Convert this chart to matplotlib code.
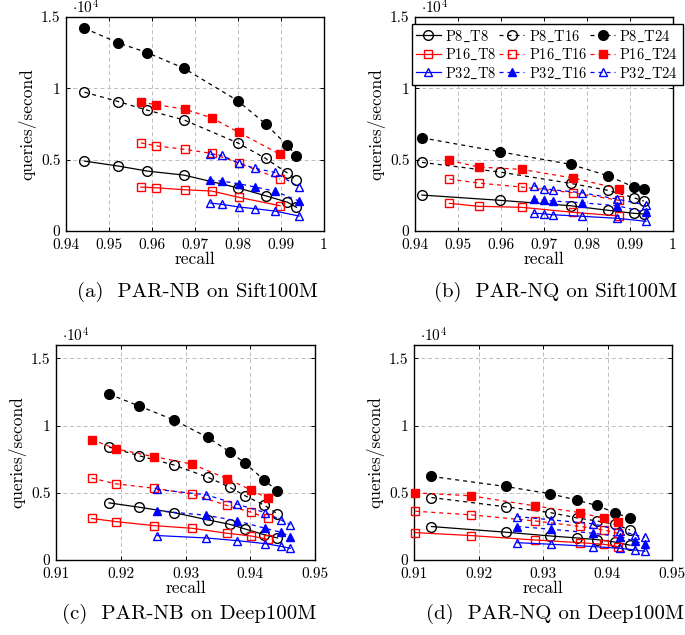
import matplotlib as mpl
mpl.use('Agg')

import matplotlib.pyplot as plt

plt.rcParams['font.family'] = ['cmr10', 'DejaVu Serif']
plt.rcParams['mathtext.fontset'] = 'cm'
plt.rcParams['axes.unicode_minus'] = False
plt.rcParams['axes.formatter.use_mathtext'] = True

# ---- data (queries/second) ----
# (a) PAR-NB on Sift100M
a_recall_p8 = [0.9443, 0.9522, 0.9589, 0.9674, 0.9799, 0.9864, 0.9914, 0.9936]
a_p8 = [[4900, 4550, 4200, 3920, 3030, 2470, 2030, 1660],
        [9730, 9070, 8470, 7790, 6180, 5090, 4080, 3550],
        [14210, 13180, 12500, 11410, 9140, 7510, 6020, 5270]]
a_recall_p16 = [0.9574, 0.9609, 0.9676, 0.9739, 0.9802, 0.9898]
a_p16 = [[3080, 3030, 2890, 2800, 2360, 1770],
         [6180, 5970, 5720, 5440, 4760, 3640],
         [9030, 8860, 8540, 7930, 6910, 5370]]
a_recall_p32 = [0.9736, 0.9762, 0.9803, 0.9840, 0.9885, 0.9942]
a_p32 = [[1960, 1870, 1680, 1560, 1400, 1050],
         [3570, 3500, 3310, 3080, 2800, 2100],
         [5370, 5300, 4740, 4390, 4110, 3080]]

# (b) PAR-NQ on Sift100M
b_recall_p8 = [0.9416, 0.9598, 0.9762, 0.9849, 0.9909, 0.9932]
b_p8 = [[2520, 2150, 1770, 1450, 1240, 1190],
        [4810, 4130, 3340, 2850, 2330, 2100],
        [6530, 5550, 4670, 3870, 3080, 2920]]
b_recall_p16 = [0.9480, 0.9548, 0.9648, 0.9768, 0.9875]
b_p16 = [[1940, 1730, 1660, 1310, 1050],
         [3640, 3360, 3080, 2680, 2150],
         [4950, 4480, 4320, 3710, 2960]]
b_recall_p32 = [0.9676, 0.9699, 0.9720, 0.9789, 0.9870, 0.9937]
b_p32 = [[1240, 1210, 1140, 1030, 890, 680],
         [2240, 2150, 2100, 1980, 1770, 1310],
         [3170, 2960, 2890, 2680, 2240, 1820]]

# (c) PAR-NB on Deep100M
c_recall_p8 = [0.9182, 0.9228, 0.9282, 0.9334, 0.9368, 0.9392, 0.9421, 0.9442]
c_p8 = [[4250, 3930, 3530, 2990, 2660, 2310, 1890, 1640],
        [8410, 7760, 7070, 6170, 5420, 4780, 4100, 3430],
        [12340, 11470, 10420, 9130, 8060, 7210, 5970, 5150]]
c_recall_p16 = [0.9155, 0.9192, 0.9251, 0.9310, 0.9364, 0.9401, 0.9427]
c_p16 = [[3090, 2860, 2560, 2360, 1990, 1790, 1540],
         [6100, 5670, 5350, 4900, 4060, 3560, 3090],
         [8960, 8280, 7690, 7140, 6050, 5220, 4600]]
c_recall_p32 = [0.9256, 0.9332, 0.9380, 0.9423, 0.9447, 0.9462]
c_p32 = [[1820, 1640, 1440, 1220, 1020, 870],
         [3660, 3330, 2910, 2360, 2070, 1740],
         [5250, 4850, 4150, 3530, 2990, 2610]]

# (d) PAR-NQ on Deep100M
d_recall_p8 = [0.9127, 0.9242, 0.9311, 0.9353, 0.9383, 0.9411, 0.9435]
d_p8 = [[2490, 2070, 1790, 1640, 1520, 1340, 1100],
        [4650, 3960, 3530, 3130, 2910, 2660, 2240],
        [6220, 5470, 4930, 4450, 4060, 3530, 3110]]
d_recall_p16 = [0.9102, 0.9188, 0.9287, 0.9357, 0.9394, 0.9416]
d_p16 = [[2040, 1820, 1490, 1290, 1170, 1000],
         [3630, 3360, 2910, 2500, 2240, 1990],
         [5000, 4780, 4030, 3530, 3110, 2860]]
d_recall_p32 = [0.9260, 0.9313, 0.9378, 0.9420, 0.9442, 0.9458]
d_p32 = [[1290, 1170, 1000, 870, 750, 650],
         [2490, 2290, 1990, 1740, 1390, 1190],
         [3230, 2990, 2690, 2190, 1870, 1690]]

threads = ['T8', 'T16', 'T24']
captions = ['(a)  PAR-NB on Sift100M', '(b)  PAR-NQ on Sift100M',
            '(c)  PAR-NB on Deep100M', '(d)  PAR-NQ on Deep100M']

# style of each series: (colour, marker, filled, dashed) per partition / thread
styles = {
    'P8': [('black', 'o', False, False), ('black', 'o', False, True),
           ('black', 'o', True, True)],
    'P16': [('red', 's', False, False), ('red', 's', False, True),
            ('red', 's', True, True)],
    'P32': [('blue', '^', False, False), ('blue', '^', True, True),
            ('blue', '^', False, True)],
}


def plot_panel(ax, groups, xlim, ylim, xticks, xticklabels):
    handles = {}
    for pname, recall, qps in groups:
        for k in range(3):
            colour, marker, filled, dashed = styles[pname][k]
            y = [v / 1e4 for v in qps[k]]
            ls = (0, (3.2, 3.2)) if dashed else '-'
            # the underscore has to go through mathtext, cmr10 has none
            label = r'$\mathrm{' + pname + r'\_' + threads[k] + '}$'
            h, = ax.plot(recall, y, color=colour, ls=ls, lw=0.9,
                         marker=marker, ms=7.0 if marker == 'o' else 6.4,
                         mfc=colour if filled else 'none', mec=colour,
                         mew=1.0, clip_on=False, zorder=3, label=label)
            handles[(pname, k)] = h
    ax.set_xlim(*xlim)
    ax.set_ylim(*ylim)
    ax.set_xticks(xticks)
    ax.set_xticklabels(xticklabels)
    ax.set_yticks([0, 0.5, 1, 1.5])
    ax.set_yticklabels(['0', '0.5', '1', '1.5'])
    ax.grid(True, ls=(0, (4, 3)), color='#bdbdbd', lw=0.7)
    ax.set_axisbelow(True)
    ax.tick_params(direction='in', length=3, width=0.7, top=True,
                   right=True, labelsize=11)
    ax.tick_params(axis='x', pad=5)
    ax.tick_params(axis='y', pad=4)
    for s in ax.spines.values():
        s.set_linewidth(1.0)
    ax.set_xlabel('recall', fontsize=12.5, labelpad=0)
    ax.set_ylabel('queries/second', fontsize=12.5, labelpad=3)
    ax.text(0.025, 1.0, r'$\cdot 10^4$', transform=ax.transAxes,
            fontsize=11, va='bottom', ha='left')
    return handles


fig = plt.figure(figsize=(6.85, 6.35), dpi=100)
ax_a = fig.add_axes([66 / 685, 1 - 231 / 635, 258 / 685, 214 / 635])
ax_b = fig.add_axes([415 / 685, 1 - 231 / 635, 258 / 685, 214 / 635])
ax_c = fig.add_axes([56 / 685, 1 - 560 / 635, 259 / 685, 215 / 635])
ax_d = fig.add_axes([414 / 685, 1 - 560 / 635, 258 / 685, 215 / 635])

sift_ticks = [0.94, 0.95, 0.96, 0.97, 0.98, 0.99, 1.0]
sift_labels = ['0.94', '0.95', '0.96', '0.97', '0.98', '0.99', '1']
deep_ticks = [0.91, 0.92, 0.93, 0.94, 0.95]
deep_labels = ['0.91', '0.92', '0.93', '0.94', '0.95']

plot_panel(ax_a, [('P8', a_recall_p8, a_p8), ('P16', a_recall_p16, a_p16),
                  ('P32', a_recall_p32, a_p32)],
           (0.94, 1.0), (0, 1.5), sift_ticks, sift_labels)
hb = plot_panel(ax_b, [('P8', b_recall_p8, b_p8), ('P16', b_recall_p16, b_p16),
                       ('P32', b_recall_p32, b_p32)],
                (0.94, 1.0), (0, 1.5), sift_ticks, sift_labels)
plot_panel(ax_c, [('P8', c_recall_p8, c_p8), ('P16', c_recall_p16, c_p16),
                  ('P32', c_recall_p32, c_p32)],
           (0.91, 0.95), (0, 1.6), deep_ticks, deep_labels)
plot_panel(ax_d, [('P8', d_recall_p8, d_p8), ('P16', d_recall_p16, d_p16),
                  ('P32', d_recall_p32, d_p32)],
           (0.91, 0.95), (0, 1.6), deep_ticks, deep_labels)

# legend is filled column by column, so order the handles that way
order = [(p, k) for k in range(3) for p in ['P8', 'P16', 'P32']]
leg = ax_b.legend([hb[o] for o in order], [hb[o].get_label() for o in order],
                  ncol=3, loc='upper left', bbox_to_anchor=(-0.013, 0.967),
                  fontsize=10.5, frameon=True, fancybox=False,
                  edgecolor='black', handlelength=1.7, handletextpad=0.3,
                  columnspacing=0.2, labelspacing=0.22, borderpad=0.3,
                  borderaxespad=0)
leg.get_frame().set_linewidth(1.0)
leg.get_frame().set_alpha(1)

fig.text(197 / 685, 1 - 292 / 635, captions[0], ha='center', va='center',
         fontsize=15)
fig.text(556 / 685, 1 - 292 / 635, captions[1], ha='center', va='center',
         fontsize=15)
fig.text(189 / 685, 1 - 614 / 635, captions[2], ha='center', va='center',
         fontsize=15)
fig.text(555 / 685, 1 - 614 / 635, captions[3], ha='center', va='center',
         fontsize=15)

plt.savefig('out.png', dpi=100)
plt.close()
